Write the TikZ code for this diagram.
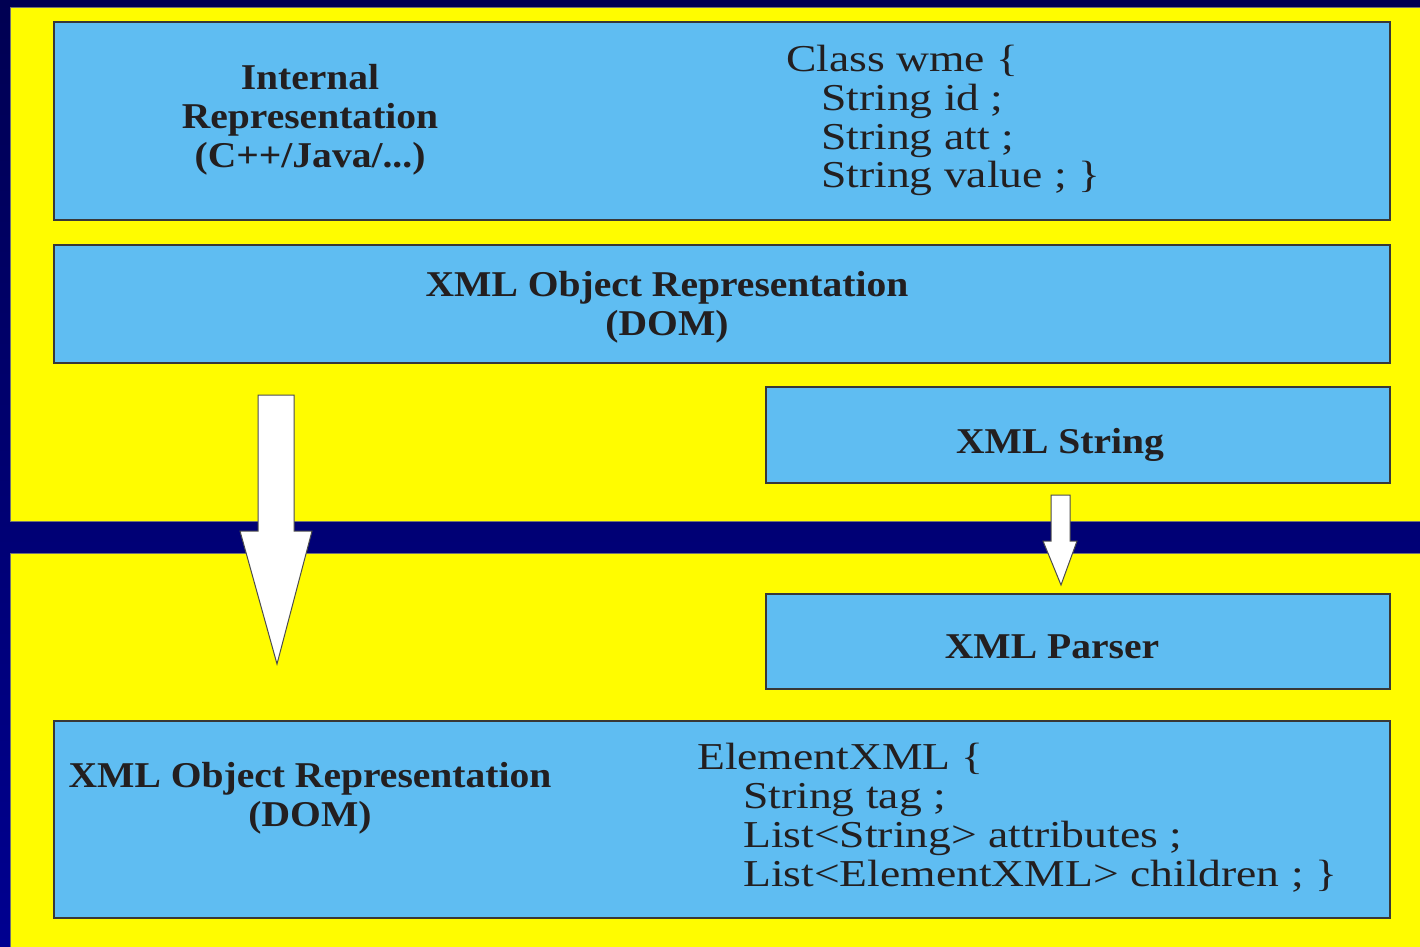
\documentclass[tikz,border=0pt]{standalone}
\usepackage{fontspec}
\setmainfont{Liberation Serif}
\newfontfamily\headfont[FakeStretch=1.09]{Liberation Serif}
\newfontfamily\codefont[FakeStretch=1.2]{Liberation Serif}

\definecolor{navytop}{HTML}{000052}
\definecolor{navybot}{HTML}{000090}
\definecolor{panelyellow}{HTML}{FFFC00}
\definecolor{boxblue}{HTML}{5FBDF2}
\definecolor{boxline}{HTML}{383838}
\definecolor{inkdark}{HTML}{231F20}

\tikzset{
  panel/.style={fill=panelyellow, draw=black!55, line width=0.8pt},
  layerbox/.style={rectangle, fill=boxblue, draw=boxline, line width=1.6pt,
    anchor=north west, inner sep=0pt},
  headline/.style={anchor=base, inner sep=0pt, text=inkdark, yshift=-1.5pt,
    font=\headfont\bfseries\fontsize{36.3}{39}\selectfont},
  codeline/.style={anchor=base west, inner sep=0pt, text=inkdark, yshift=-1.5pt,
    font=\codefont\fontsize{38}{39}\selectfont},
  blockarrow/.style={fill=white, draw=black!70, line width=1pt, line join=miter},
}

\begin{document}
\begin{tikzpicture}[x=1pt, y=-1pt]
\useasboundingbox (0,0) rectangle (1420,946);

% background and the two yellow layers
\shade[top color=navytop, bottom color=navybot] (0,0) rectangle (1420,946);
\draw[panel] (10,7) rectangle (1422,521);
\draw[panel] (10,553) rectangle (1422,948);

% layer boxes
\node[layerbox, minimum width=1336pt, minimum height=198pt] (internal) at (53,21) {};
\node[layerbox, minimum width=1336pt, minimum height=118pt] (domtop) at (53,244) {};
\node[layerbox, minimum width=624pt, minimum height=96pt] (xmlstring) at (765,386) {};
\node[layerbox, minimum width=624pt, minimum height=95pt] (parser) at (765,593) {};
\node[layerbox, minimum width=1336pt, minimum height=197pt] (dombottom) at (53,720) {};

% internal representation
\node[headline] (int1) at (310,88) {Internal};
\node[headline] (int2) at (310,127) {Representation};
\node[headline] (int3) at (310,166) {(C++/Java/...)};

\node[codeline] (wme1) at (786,70) {Class wme \{};
\node[codeline] (wme2) at (821,109) {String id ;};
\node[codeline] (wme3) at (821,148) {String att ;};
\node[codeline] (wme4) at (821,186) {String value ; \}};

% object representation
\node[headline] (dom1) at (667,295) {XML Object Representation};
\node[headline] (dom2) at (667,334) {(DOM)};

\node[headline] (str) at (1060,452) {XML String};
\node[headline] (prs) at (1052,657) {XML Parser};

\node[headline] (domb1) at (310,786) {XML Object Representation};
\node[headline] (domb2) at (310,825) {(DOM)};

\node[codeline] (el1) at (697,768) {ElementXML \{};
\node[codeline] (el2) at (743,807) {String tag ;};
\node[codeline] (el3) at (743,846) {List<String> attributes ;};
\node[codeline] (el4) at (743,885) {List<ElementXML> children ; \}};

% block arrows
\coordinate (bigtop) at (276,395);
\coordinate (bigtip) at (277,664);
\draw[blockarrow] ([xshift=-18pt]bigtop) -- ([xshift=18pt]bigtop)
  -- (294,531) -- (312,531) -- (bigtip) -- (240,531) -- (258,531) -- cycle;

\coordinate (smalltop) at (1060.5,495);
\coordinate (smalltip) at (1061,585);
\draw[blockarrow] ([xshift=-9.5pt]smalltop) -- ([xshift=9.5pt]smalltop)
  -- (1070,541) -- (1077,541) -- (smalltip) -- (1043,541) -- (1051,541) -- cycle;
\end{tikzpicture}
\end{document}
